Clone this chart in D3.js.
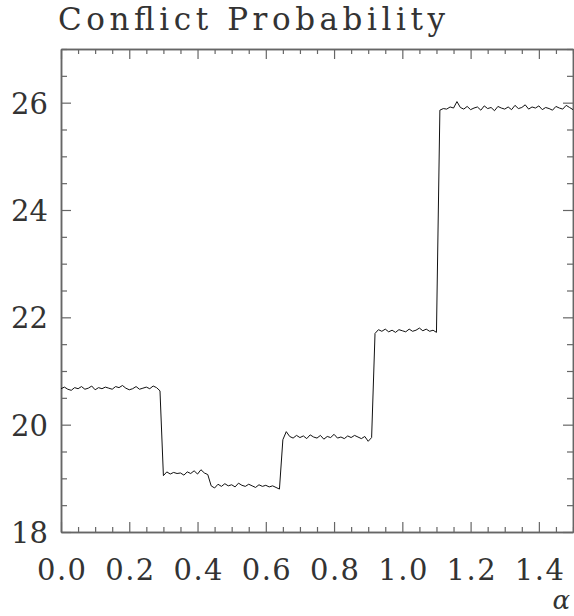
<!DOCTYPE html>
<html>
<head>
<meta charset="utf-8">
<script src="https://cdn.jsdelivr.net/npm/d3@7"></script>
<style>
  body { margin: 0; background: #fff; }
  svg { display: block; }
</style>
</head>
<body>
<svg class="chart" width="574" height="616"></svg>
<script>
// samples taken every 0.01 in alpha, from 0.00 to 1.50
const alphaStep = 0.01;
const conflictValues = [
  20.67, 20.70, 20.66, 20.64, 20.69, 20.67, 20.71, 20.66, 20.68, 20.72,
  20.65, 20.69, 20.67, 20.70, 20.68, 20.66, 20.71, 20.69, 20.73, 20.68,
  20.65, 20.67, 20.71, 20.66, 20.68, 20.70, 20.67, 20.72, 20.69, 20.63,
  19.05, 19.12, 19.08, 19.11, 19.09, 19.10, 19.06, 19.12, 19.09, 19.14,
  19.08, 19.16, 19.10, 19.07,
  18.86, 18.82, 18.89, 18.85, 18.90, 18.86, 18.88, 18.84, 18.91, 18.87,
  18.85, 18.89, 18.86, 18.83, 18.88, 18.85, 18.87, 18.84, 18.86, 18.83,
  18.80,
  19.72, 19.87, 19.78, 19.75, 19.80, 19.76, 19.79, 19.74, 19.81, 19.77,
  19.75, 19.80, 19.73, 19.78, 19.76, 19.82, 19.75, 19.77, 19.74, 19.79,
  19.76, 19.80, 19.77, 19.74, 19.78, 19.69, 19.76,
  21.70, 21.77, 21.74, 21.78, 21.73, 21.76, 21.72, 21.77, 21.75, 21.73,
  21.78, 21.74, 21.76, 21.80, 21.75, 21.78, 21.74, 21.76, 21.72,
  25.86, 25.89, 25.88, 25.92, 25.90, 26.02, 25.91, 25.88, 25.93, 25.87,
  25.90, 25.92, 25.86, 25.94, 25.89, 25.91, 25.85, 25.93, 25.90, 25.88,
  25.92, 25.87, 25.95, 25.89, 25.91, 25.96, 25.88, 25.92, 25.90, 25.94,
  25.87, 25.91, 25.89, 25.86, 25.93, 25.90, 25.88, 25.95, 25.91, 25.87
];
const xMajorTicks = [0.0, 0.2, 0.4, 0.6, 0.8, 1.0, 1.2, 1.4];
const yMajorTicks = [18, 20, 22, 24, 26];
const xDomain = [0, 1.5];
const yDomain = [18, 27];

const plotLeft = 61, plotRight = 573, plotTop = 49, plotBottom = 532;
const axisColor = "#666";
const serif = "DejaVu Serif";
const $svg = d3.select(".chart");

const x = d3.scaleLinear().domain(xDomain).range([plotLeft, plotRight]);
const y = d3.scaleLinear().domain(yDomain).range([plotBottom, plotTop]);

const data = conflictValues.map((v, i) => ({ a: i * alphaStep, v: v }));

const xMinor = d3.range(0, 1.5001, 0.05).filter(t => Math.abs(t / 0.2 - Math.round(t / 0.2)) > 1e-6);
const yMinor = d3.range(18, 27.001, 0.5).filter(t => t % 2 !== 0);

function styleAxis(g) {
  g.attr("font-family", serif);
  g.select(".domain").attr("stroke", axisColor).attr("stroke-width", 1.5);
  g.selectAll(".tick line").attr("stroke", axisColor).attr("stroke-width", 1.2);
}

// bottom
$svg.append("g").attr("transform", `translate(0,${plotBottom})`)
  .call(d3.axisBottom(x).tickValues(xMajorTicks).tickSize(-10).tickSizeOuter(0)
    .tickPadding(27).tickFormat(d3.format(".1f")))
  .call(styleAxis)
  .call(g => g.selectAll("text")
    .attr("font-size", 29).attr("font-weight", 300)
    .attr("textLength", 49).attr("lengthAdjust", "spacing")
    .attr("fill", "#333"));
$svg.append("g").attr("transform", `translate(0,${plotBottom})`)
  .call(d3.axisBottom(x).tickValues(xMinor).tickSize(-5).tickSizeOuter(0).tickFormat(""))
  .call(styleAxis);

// top
$svg.append("g").attr("transform", `translate(0,${plotTop})`)
  .call(d3.axisTop(x).tickValues(xMajorTicks).tickSize(-10).tickSizeOuter(0).tickFormat(""))
  .call(styleAxis);
$svg.append("g").attr("transform", `translate(0,${plotTop})`)
  .call(d3.axisTop(x).tickValues(xMinor).tickSize(-5).tickSizeOuter(0).tickFormat(""))
  .call(styleAxis);

// left
$svg.append("g").attr("transform", `translate(${plotLeft},0)`)
  .call(d3.axisLeft(y).tickValues(yMajorTicks).tickSize(-10).tickSizeOuter(0)
    .tickPadding(13).tickFormat(d3.format("d")))
  .call(styleAxis)
  .call(g => g.selectAll("text")
    .attr("font-size", 29).attr("font-weight", 300)
    .attr("textLength", 37).attr("lengthAdjust", "spacing")
    .attr("dy", "0.36em")
    .attr("fill", "#333"));
$svg.append("g").attr("transform", `translate(${plotLeft},0)`)
  .call(d3.axisLeft(y).tickValues(yMinor).tickSize(-6).tickSizeOuter(0).tickFormat(""))
  .call(styleAxis);

// right
$svg.append("g").attr("transform", `translate(${plotRight},0)`)
  .call(d3.axisRight(y).tickValues(yMajorTicks).tickSize(-10).tickSizeOuter(0).tickFormat(""))
  .call(styleAxis);
$svg.append("g").attr("transform", `translate(${plotRight},0)`)
  .call(d3.axisRight(y).tickValues(yMinor).tickSize(-6).tickSizeOuter(0).tickFormat(""))
  .call(styleAxis);

// the data line
const line = d3.line().x(d => x(d.a)).y(d => y(d.v));
$svg.append("path")
  .datum(data)
  .attr("d", line)
  .attr("fill", "none")
  .attr("stroke", "#111")
  .attr("stroke-width", 1)
  .attr("stroke-linejoin", "miter");

// title
$svg.append("text")
  .attr("x", 58).attr("y", 30)
  .attr("font-family", serif)
  .attr("font-size", 31)
  .attr("font-weight", 300)
  .attr("fill", "#333")
  .attr("textLength", 387).attr("lengthAdjust", "spacing")
  .text("Conflict Probability");

// alpha axis label
$svg.append("text")
  .attr("x", 570).attr("y", 609)
  .attr("text-anchor", "end")
  .attr("font-family", serif)
  .attr("font-size", 26)
  .attr("font-style", "italic")
  .attr("fill", "#333")
  .text("α");
</script>
</body>
</html>
